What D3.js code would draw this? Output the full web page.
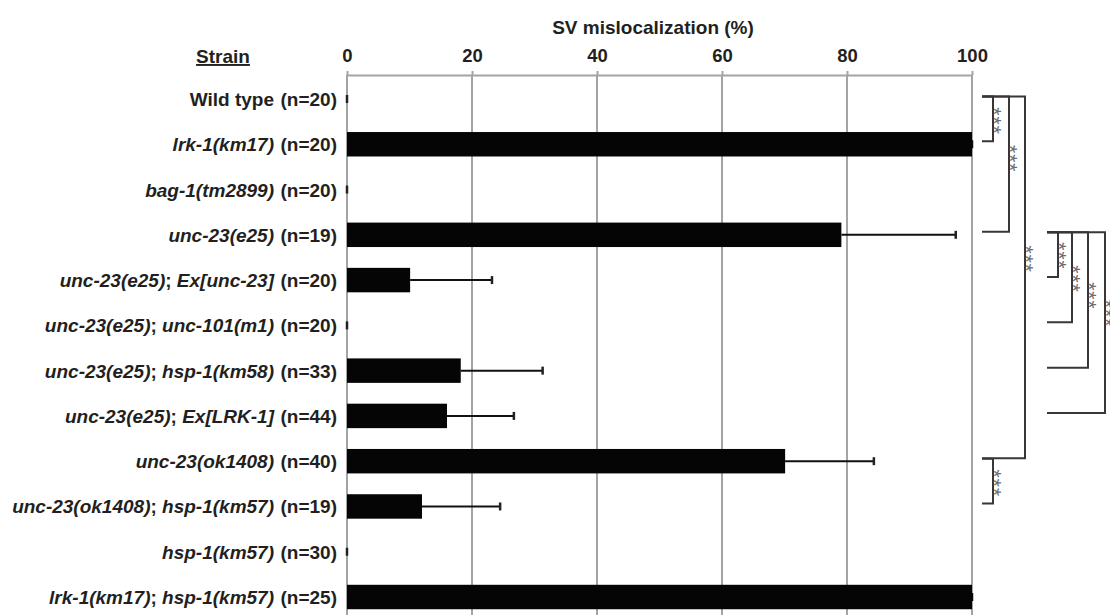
<!DOCTYPE html>
<html>
<head>
<meta charset="utf-8">
<script src="https://cdn.jsdelivr.net/npm/d3@7/dist/d3.min.js"></script>
<style>
  html, body { margin: 0; padding: 0; background: #ffffff; }
  svg { display: block; }
  text { font-family: "Liberation Sans", Arial, Helvetica, sans-serif; }
</style>
</head>
<body>
<svg id="chart" width="1110" height="615"></svg>
<script>
// ---------- data ----------
const strains = [
  "Wild type",
  "lrk-1(km17)",
  "bag-1(tm2899)",
  "unc-23(e25)",
  "unc-23(e25); Ex[unc-23]",
  "unc-23(e25); unc-101(m1)",
  "unc-23(e25); hsp-1(km58)",
  "unc-23(e25); Ex[LRK-1]",
  "unc-23(ok1408)",
  "unc-23(ok1408); hsp-1(km57)",
  "hsp-1(km57)",
  "lrk-1(km17); hsp-1(km57)"
];
const nCounts = [20, 20, 20, 19, 20, 20, 33, 44, 40, 19, 30, 25];
const meanValues = [0, 100, 0, 79.1, 10.1, 0, 18.2, 16.0, 70.1, 12.0, 0, 100];
const errorValues = [0, 0, 0, 18.3, 13.1, 0, 13.1, 10.7, 14.2, 12.5, 0, 0];
const xTicks = [0, 20, 40, 60, 80, 100];
const xTitle = "SV mislocalization (%)";
const yTitle = "Strain";
// significance comparisons: [row a, row b]
const comparisons = [[0, 1], [0, 3], [0, 8], [3, 4], [3, 5], [3, 6], [3, 7], [8, 9]];
const sigLabels = ["***", "***", "***", "***", "***", "***", "***", "***"];

// ---------- layout ----------
const bracketVX = [993, 1009, 1025, 1058, 1072, 1088, 1105, 993];
const bracketStartX = [982, 982, 982, 1047, 1047, 1047, 1047, 982];
const starFrac = [0.55, 0.46, 0.45, 0.53, 0.52, 0.47, 0.45, 0.55];

const svg = d3.select("#chart");
const x = d3.scaleLinear().domain([0, 100]).range([347, 972]);
const y = d3.scaleBand().domain(d3.range(strains.length))
  .range([76.35, 619.65]).paddingInner(0.46).paddingOuter(0.23);
const cy = i => y(i) + y.bandwidth() / 2;
const axisY = 75;
const FS = 19;

// gridlines
svg.append("g").selectAll("line").data(xTicks).join("line")
  .attr("x1", d => x(d)).attr("x2", d => x(d))
  .attr("y1", axisY).attr("y2", 615)
  .attr("stroke", "#a4a4a4").attr("stroke-width", 2);

// axis
const ax = svg.append("g").attr("transform", `translate(0,${axisY})`)
  .call(d3.axisTop(x).tickValues(xTicks).tickSize(4).tickSizeOuter(0).tickPadding(9));
ax.select(".domain").attr("stroke", "#a4a4a4").attr("stroke-width", 2);
ax.selectAll(".tick line").attr("stroke", "#a4a4a4").attr("stroke-width", 2);
ax.selectAll(".tick text").attr("font-size", 18.5).attr("font-weight", "bold")
  .attr("fill", "#231f20").style("font-family", "'Liberation Sans', Arial, sans-serif");

// axis title
svg.append("text").attr("x", 653).attr("y", 34).attr("text-anchor", "middle")
  .attr("font-size", FS).attr("font-weight", "bold").attr("fill", "#231f20")
  .text(xTitle);

// strain header
svg.append("text").attr("x", 223).attr("y", 63).attr("text-anchor", "middle")
  .attr("font-size", FS).attr("font-weight", "bold").attr("fill", "#231f20")
  .attr("text-decoration", "underline")
  .text(yTitle);

// bars
svg.append("g").selectAll("rect").data(meanValues).join("rect")
  .attr("x", x(0)).attr("y", (d, i) => y(i))
  .attr("width", d => x(d) - x(0)).attr("height", y.bandwidth())
  .attr("fill", "#050505");

// error bars
const eg = svg.append("g");
meanValues.forEach((m, i) => {
  const e = errorValues[i];
  if (e > 0) {
    eg.append("line").attr("x1", x(m)).attr("x2", x(m + e))
      .attr("y1", cy(i)).attr("y2", cy(i))
      .attr("stroke", "#111").attr("stroke-width", 2);
  }
  eg.append("line").attr("x1", x(m + e)).attr("x2", x(m + e))
    .attr("y1", cy(i) - 4).attr("y2", cy(i) + 4)
    .attr("stroke", m + e < 100 ? "#222" : "#050505").attr("stroke-width", 2.5);
});

// strain labels
const lg = svg.append("g");
strains.forEach((s, i) => {
  const t = lg.append("text").attr("x", 274).attr("y", cy(i) + 7)
    .attr("text-anchor", "end").attr("font-size", FS).attr("font-weight", "bold")
    .attr("fill", "#231f20");
  if (s === "Wild type") {
    t.append("tspan").text(s);
  } else {
    const parts = s.split("; ");
    parts.forEach((p, k) => {
      t.append("tspan").attr("font-style", "italic").text(p);
      if (k < parts.length - 1) t.append("tspan").text("; ");
    });
  }
  lg.append("text").attr("x", 337).attr("y", cy(i) + 7)
    .attr("text-anchor", "end").attr("font-size", FS).attr("font-weight", "bold")
    .attr("fill", "#231f20").text(`(n=${nCounts[i]})`);
});

// significance brackets
const bg = svg.append("g");
comparisons.forEach(([a, b], k) => {
  const top = cy(a) - 2.5, bot = cy(b) - 3;
  const xv = bracketVX[k], xs = bracketStartX[k];
  bg.append("path")
    .attr("d", `M${xs},${top}H${xv}V${bot}H${xs}`)
    .attr("fill", "none").attr("stroke", "#3a3536").attr("stroke-width", 2);
  const sy = top + (bot - top) * starFrac[k];
  bg.append("text")
    .attr("transform", `translate(${xv - 6},${sy}) rotate(90)`)
    .attr("text-anchor", "middle").attr("font-size", 21)
    .attr("letter-spacing", 1)
    .attr("fill", "#6a6a6a").text(sigLabels[k]);
});
</script>
</body>
</html>
